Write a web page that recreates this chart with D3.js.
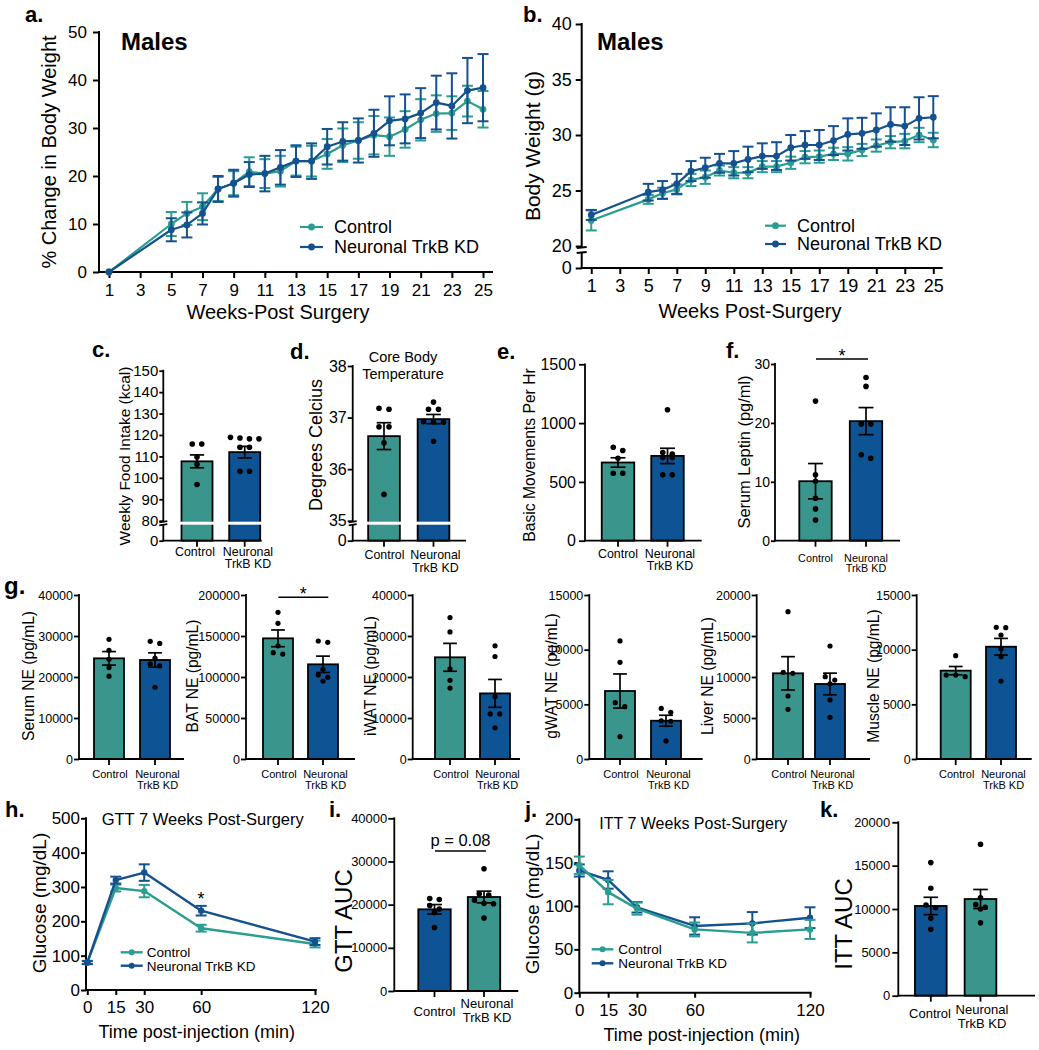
<!DOCTYPE html>
<html>
<head>
<meta charset="utf-8">
<script src="https://cdn.jsdelivr.net/npm/d3@7/dist/d3.min.js"></script>
<style>
html,body{margin:0;padding:0;background:#fff;}
svg{display:block;}
text{font-family:'Liberation Sans',Arial,Helvetica,sans-serif;fill:#000;}
</style>
</head>
<body>
<svg width="1039" height="1050" viewBox="0 0 1039 1050"></svg>
<script>
// ================= DATA =================
const groups = ["Control", "Neuronal TrkB KD"];
const weeks = [1,5,6,7,8,9,10,11,12,13,14,15,16,17,18,19,20,21,22,23,24,25];
const weekTicks = [1,3,5,7,9,11,13,15,17,19,21,23,25];

// a. % change in body weight
const pctControl    = [0,10,12.2,13.6,17.3,18.5,20.9,20.5,21,23.1,23.1,24.6,26.4,27.4,28.5,28.2,29.7,31.7,33,33.1,35.6,33.9];
const pctControlSEM = [0,2.5,2.4,2.8,2.5,2.5,3,3,3.2,3,3.2,3.1,3.5,3.8,4,4,3.8,4.3,3.8,3.5,3.2,3.8];
const pctKD         = [0,8.8,9.8,12.2,17.3,18.5,20.3,20.5,21.8,23.1,23.1,26.1,27.2,27.4,28.9,31.5,31.9,33.1,35.3,34.6,37.8,38.4];
const pctKDSEM      = [0,2.4,2.6,2.3,2.7,2.8,2.6,3.7,3.6,3.3,3.7,3.7,4,4.6,4.9,5.1,5.1,5.2,5.6,6.8,6.8,7];
const pctTicks = [0,10,20,30,40,50];

// b. body weight (g)
const bwControl    = [22.3,24.2,24.75,25.1,25.95,26.2,26.8,26.6,26.6,27.15,27.15,27.5,28,28.05,28.3,28.3,28.65,29.05,29.35,29.45,30,29.55];
const bwControlSEM = [0.9,0.4,0.5,0.45,0.55,0.6,0.45,0.5,0.5,0.5,0.5,0.55,0.55,0.55,0.55,0.6,0.55,0.55,0.55,0.65,0.65,0.65];
const bwKD         = [22.8,24.85,25.05,25.6,26.75,27.05,27.45,27.45,27.8,28.1,28.1,28.85,29.1,29.1,29.5,30.05,30.15,30.45,30.95,30.8,31.5,31.6];
const bwKDSEM      = [0.45,0.75,0.8,0.9,0.9,0.9,0.85,1.1,1.15,1.15,1.25,1.15,1.25,1.35,1.3,1.45,1.4,1.5,1.55,1.7,1.9,1.9];
const bwTicks = [0,20,25,30,35,40];

// c. weekly food intake
const foodMean = [107.7, 112];
const foodSEM  = [3, 2.7];
const foodPtsControl = [115.8,115.8,109.7,106.3,96.9];
const foodPtsKD      = [118.6,118.2,118.2,118.9,114.3,114.3,103.1,103.1];
const foodTicks = [0,80,90,100,110,120,130,140,150];

// d. core body temperature
const tempMean = [36.64, 36.97];
const tempSEM  = [0.26, 0.09];
const tempPtsControl = [37.16,37.18,36.82,36.82,36.51,35.51];
const tempPtsKD      = [37.3,37.16,37.16,36.92,36.91,36.92,36.54];
const tempTicks = [0,35,36,37,38];

// e. basic movements
const moveMean = [665, 721];
const moveSEM  = [40, 65];
const movePtsControl = [767,795,701,574,574];
const movePtsKD      = [1113,736,750,707,707,560,560];
const moveTicks = [0,500,1000,1500];

// f. serum leptin
const leptinMean = [10.1, 20.3];
const leptinSEM  = [3, 2.3];
const leptinPtsControl = [23.7,11.2,10.1,7.2,5.4,3.5];
const leptinPtsKD      = [27.7,26.2,19.8,19.8,14,14.6];
const leptinTicks = [0,10,20,30];

// g. norepinephrine
const serumNEMean = [24550, 24150], serumNESEM = [1650, 1750];
const serumNEPtsControl = [29200,26500,24300,22300,20200];
const serumNEPtsKD = [28200,28700,24600,23200,22700,17500];
const batNEMean = [147150, 115450], batNESEM = [10200, 10000];
const batNEPtsControl = [178900,165400,138000,129700,128000];
const batNEPtsKD = [142300,143900,109300,102500,99600,95100];
const iwatNEMean = [24800, 16000], iwatNESEM = [3400, 3400];
const iwatNEPtsControl = [34500,31000,22000,19200,17300];
const iwatNEPtsKD = [27600,25000,15200,11000,11000,7600];
const gwatNEMean = [6220, 3500], gwatNESEM = [1560, 500];
const gwatNEPtsControl = [10800,8840,5150,4790,2040];
const gwatNEPtsKD = [4630,4270,3500,3450,1650];
const liverNEMean = [10450, 9150], liverNESEM = [2030, 1320];
const liverNEPtsControl = [17970,10450,10570,7680,6060];
const liverNEPtsKD = [13780,10040,9630,9150,7200,5080];
const muscleNEMean = [8080, 10270], muscleNESEM = [380, 760];
const muscleNEPtsControl = [9450,7680,7530,7680];
const muscleNEPtsKD = [12010,12040,11340,10060,9360,7130];
const ticks40k  = [0,10000,20000,30000,40000];
const ticks200k = [0,50000,100000,150000,200000];
const ticks15k  = [0,5000,10000,15000];
const ticks20k  = [0,5000,10000,15000,20000];

// h. GTT
const gttTimes = [0,15,30,60,120];
const gttControl = [80,297,288,180,134], gttControlSEM = [5,10,18,10,10];
const gttKD = [80,320,342,231,141], gttKDSEM = [4,10,24,14,10];
const gttTicks = [0,100,200,300,400,500];
const timeTicks = [0,15,30,60,120];

// i. GTT AUC
const gttAUCMean = [18920, 21770], gttAUCSEM = [1100, 1350];
const gttAUCPtsControl = [21200,21400,19800,19000,18200,14700];
const gttAUCPtsKD = [28300,22500,22200,21000,20300,20200,16900];

// j. ITT
const ittTimes = [0,15,30,60,90,120];
const ittControl = [147,116,97,73,69,73], ittControlSEM = [10,14,7,8,11,11];
const ittKD = [141,130,98.5,77,80,86.5], ittKDSEM = [7,10,6,10,13,12];
const ittTicks = [0,50,100,150,200];

// k. ITT AUC
const ittAUCMean = [10350, 11150], ittAUCSEM = [1000, 1100];
const ittAUCPtsControl = [15350,12400,10460,10150,8920,7650];
const ittAUCPtsKD = [17460,11300,10500,10200,10000,8400];

// ================= DRAWING =================
const FONT = "'Liberation Sans', Arial, Helvetica, sans-serif";
const TEAL_L = "#2a9d91", NAVY_L = "#15508f", TEAL_B = "#3a968d", NAVY_B = "#0e5393";
const svg = d3.select("svg");
svg.append("rect").attr("width",1039).attr("height",1050).attr("fill","#fff");

function ln(x1,y1,x2,y2,sw,color){
  return svg.append("line").attr("x1",x1).attr("y1",y1).attr("x2",x2).attr("y2",y2)
    .attr("stroke",color||"#000").attr("stroke-width",sw);
}
function txt(x,y,s,fs,o={}){
  const t = svg.append("text").attr("font-size",fs).attr("font-family",FONT).attr("fill","#000").text(s);
  if (o.rot) t.attr("transform",`translate(${x},${y}) rotate(-90)`).attr("text-anchor","middle").attr("dy","0.35em");
  else { t.attr("x",x).attr("y",y).attr("text-anchor",o.anchor||"start"); if (o.dy) t.attr("dy",o.dy); }
  if (o.bold) t.attr("font-weight","bold");
  return t;
}
function txt2(x, y1, y2, l1, l2, fs){
  const t = svg.append("text").attr("font-size",fs).attr("font-family",FONT).attr("fill","#000")
    .attr("text-anchor","middle");
  t.append("tspan").attr("x",x).attr("y",y1).text(l1);
  t.append("tspan").attr("x",x).attr("y",y2).text(l2);
  return t;
}
function styleAxis(g, fs, sw){
  g.attr("font-family",null).attr("font-size",null);
  g.select(".domain").remove();
  g.selectAll(".tick line").attr("stroke","#000").attr("stroke-width",sw);
  g.selectAll(".tick text").attr("fill","#000").attr("font-size",fs).attr("font-family",FONT);
}
function yAxisLine(x, yTop, yBot, sw, brk, bw){
  if (!brk){ ln(x, yTop - sw/2, x, yBot + sw/2, sw); return; }
  ln(x, yTop - sw/2, x, brk[0], sw);
  ln(x, brk[1], x, yBot + sw/2, sw);
  ln(x - bw, brk[0] + 0.6, x + bw, brk[0] - 0.6, sw);
  ln(x - bw, brk[1] + 0.6, x + bw, brk[1] - 0.6, sw);
}
function swarm(vals, y, cx, sp, tol){
  const pts = vals.map(v=>({v, py:y(v)})).sort((a,b)=>a.py-b.py);
  const rows = []; let cur = null;
  pts.forEach(p=>{ if(!cur || p.py - cur[0].py > tol){ cur=[p]; rows.push(cur); } else cur.push(p); });
  rows.forEach(r=>r.forEach((p,i)=>{ p.px = cx + (i-(r.length-1)/2)*sp; }));
  return pts;
}

function linePanel(o){
  const x = d3.scaleLinear().domain(o.xDomain).range(o.xRange);
  const y = d3.scaleLinear().domain(o.yDomain).range(o.yRange);
  const yb = o.yRange[0], yt = o.yRange[o.yRange.length-1];
  const gx = svg.append("g").attr("transform",`translate(0,${yb})`)
    .call(d3.axisBottom(x).tickValues(o.xTicks).tickSize(o.tickLen).tickPadding(o.xPad).tickSizeOuter(0));
  styleAxis(gx, o.tickFs, o.sw);
  const gy = svg.append("g").attr("transform",`translate(${o.axisX},0)`)
    .call(d3.axisLeft(y).tickValues(o.yTicks).tickSize(o.tickLen).tickPadding(o.yPad).tickSizeOuter(0));
  styleAxis(gy, o.tickFs, o.sw);
  ln(o.axisX - o.sw/2, yb, o.xEnd, yb, o.sw);
  yAxisLine(o.axisX, yt, yb, o.sw, o.brk, 5);
  o.series.forEach(s=>{
    const pts = o.xVals.map((t,i)=>({t, v:s.values[i], e:s.sem[i]}));
    svg.append("path").datum(pts)
      .attr("d", d3.line().x(d=>x(d.t)).y(d=>y(d.v)))
      .attr("fill","none").attr("stroke",s.color).attr("stroke-width",o.lw).attr("stroke-linejoin","round");
    pts.forEach(d=>{
      if (d.e > 0){
        const cx = x(d.t), y1 = y(d.v + d.e), y2 = y(d.v - d.e);
        ln(cx, y1, cx, y2, o.ew, s.color);
        ln(cx - o.capW/2, y1, cx + o.capW/2, y1, o.ew, s.color);
        ln(cx - o.capW/2, y2, cx + o.capW/2, y2, o.ew, s.color);
      }
    });
    pts.forEach(d=>{
      svg.append("circle").attr("cx",x(d.t)).attr("cy",y(d.v)).attr("r",o.r).attr("fill",s.color);
    });
  });
  return {x,y};
}

function legend(x1, x2, yy, color, label, fs, tx, r, lw){
  ln(x1, yy, x2, yy, lw, color);
  svg.append("circle").attr("cx",(x1+x2)/2).attr("cy",yy).attr("r",r).attr("fill",color);
  txt(tx, yy, label, fs, {dy:"0.36em"});
}

function barPanel(o){
  const y = d3.scaleLinear().domain(o.domain).range(o.range);
  const x = d3.scalePoint().domain(groups).range(o.centers);
  const yb = o.range[0], yt = o.range[o.range.length-1];
  const sw = 1.8;
  o.data.forEach((s,i)=>{
    const cx = x(groups[i]);
    svg.append("rect").attr("x",cx-o.bw/2).attr("y",y(s.mean)).attr("width",o.bw)
      .attr("height",yb - y(s.mean)).attr("fill",s.color).attr("stroke","#000").attr("stroke-width",sw);
  });
  if (o.brk) svg.append("rect").attr("x",o.L+1.5).attr("y",o.brk[0]).attr("width",o.R-o.L)
      .attr("height",o.brk[1]-o.brk[0]).attr("fill","#fff");
  o.data.forEach((s,i)=>{
    const cx = x(groups[i]);
    const cw = o.bw*0.46;
    const y1 = y(s.mean + s.sem), y2 = y(s.mean - s.sem);
    ln(cx, y1, cx, y2, 1.7);
    ln(cx-cw/2, y1, cx+cw/2, y1, 1.7);
    ln(cx-cw/2, y2, cx+cw/2, y2, 1.7);
    swarm(s.pts, y, cx, o.sp||9.5, 4).forEach(p=>{
      svg.append("circle").attr("cx",p.px).attr("cy",p.py).attr("r",o.r||2.8).attr("fill","#000");
    });
  });
  const gy = svg.append("g").attr("transform",`translate(${o.L},0)`)
    .call(d3.axisLeft(y).tickValues(o.ticks).tickSize(o.tl||5).tickPadding(o.pad==null?1:o.pad).tickFormat(d3.format("d")));
  styleAxis(gy, o.fs, sw);
  yAxisLine(o.L, yt, yb, sw, o.brk, 4);
  ln(o.L - sw/2, yb, o.R, yb, sw);
  groups.forEach(g=> ln(x(g), yb, x(g), yb + 6, sw));
  const lb = o.lab;
  txt(x(groups[0]) + (lb.dc||0), lb.yc, "Control", lb.fs, {anchor:"middle"});
  txt2(x(groups[1]) + (lb.dn||0), lb.y1, lb.y2, "Neuronal", "TrkB KD", lb.fs);
  txt(o.tx, o.ty, o.title, o.tfs, {rot:true});
  return {x,y};
}

function sigBar(x1, x2, yy, label, fs, ly){
  ln(x1, yy, x2, yy, 1.6);
  txt((x1+x2)/2, ly, label, fs, {anchor:"middle"});
}

// ---------- a ----------
linePanel({
  xDomain:[0.36,25.64], xRange:[99,493], axisX:99, xEnd:493,
  yDomain:[0,50], yRange:[272,32], xTicks:weekTicks, yTicks:pctTicks, xVals:weeks,
  tickFs:17, tickLen:6, xPad:5.5, yPad:6, sw:2, lw:2.2, ew:2, r:3.4, capW:11,
  series:[{values:pctControl, sem:pctControlSEM, color:TEAL_L},{values:pctKD, sem:pctKDSEM, color:NAVY_L}]
});
txt(278, 318.5, "Weeks-Post Surgery", 20, {anchor:"middle"});
txt(49, 152, "% Change in Body Weight", 20, {rot:true});
txt(121, 50, "Males", 24, {bold:true});
txt(25, 22, "a.", 22, {bold:true});
legend(300, 323, 227, TEAL_L, "Control", 18, 334, 3.4, 2.2);
legend(300, 323, 247, NAVY_L, "Neuronal TrkB KD", 18, 334, 3.4, 2.2);

// ---------- b ----------
linePanel({
  xDomain:[0.33,25.66], xRange:[581.7,942.7], axisX:581.7, xEnd:942.7,
  yDomain:[0,20,40], yRange:[268,246,24], xTicks:weekTicks, yTicks:bwTicks, xVals:weeks,
  tickFs:18, tickLen:6, xPad:5, yPad:4, sw:2, lw:2.2, ew:2, r:3.4, capW:11, brk:[247.5,252.5],
  series:[{values:bwControl, sem:bwControlSEM, color:TEAL_L},{values:bwKD, sem:bwKDSEM, color:NAVY_L}]
});
txt(750, 317.5, "Weeks Post-Surgery", 20, {anchor:"middle"});
txt(533, 146, "Body Weight (g)", 21, {rot:true});
txt(597, 50, "Males", 24, {bold:true});
txt(523, 22, "b.", 22, {bold:true});
legend(765, 786, 225.7, TEAL_L, "Control", 18, 797, 3.4, 2.2);
legend(765, 786, 244, NAVY_L, "Neuronal TrkB KD", 18, 797, 3.4, 2.2);

// ---------- c ----------
barPanel({
  L:163.3, R:261.7, domain:[0,80,150], range:[540.7,520.7,370.7], centers:[197,244.7], bw:31,
  ticks:foodTicks, fs:15, tl:4, pad:1, brk:[521.7,524.7],
  data:[{mean:foodMean[0], sem:foodSEM[0], pts:foodPtsControl, color:TEAL_B},
        {mean:foodMean[1], sem:foodSEM[1], pts:foodPtsKD, color:NAVY_B}],
  lab:{fs:12.4, yc:555.5, y1:555.5, y2:567.7, dc:-2, dn:3.3}, tx:125, ty:456, title:"Weekly Food Intake (kcal)", tfs:15.5
});
txt(92, 357, "c.", 22, {bold:true});

// ---------- d ----------
barPanel({
  L:352.7, R:466, domain:[0,35,38], range:[540.7,520.7,366], centers:[384,433.5], bw:31.7,
  ticks:tempTicks, fs:16, tl:5, pad:1, brk:[521.7,524.7], sp:10,
  data:[{mean:tempMean[0], sem:tempSEM[0], pts:tempPtsControl, color:TEAL_B},
        {mean:tempMean[1], sem:tempSEM[1], pts:tempPtsKD, color:NAVY_B}],
  lab:{fs:12.4, yc:559.3, y1:559.3, y2:571.5, dc:0.5, dn:2}, tx:315.5, ty:445, title:"Degrees Celcius", tfs:18
});
txt(403, 362, "Core Body", 14.5, {anchor:"middle"});
txt(403, 378.5, "Temperature", 14.5, {anchor:"middle"});
txt(290, 359, "d.", 22, {bold:true});

// ---------- e ----------
barPanel({
  L:585, R:701.7, domain:[0,1500], range:[540.7,364.3], centers:[618,667.5], bw:32.5,
  ticks:moveTicks, fs:16, tl:6, pad:3,
  data:[{mean:moveMean[0], sem:moveSEM[0], pts:movePtsControl, color:TEAL_B},
        {mean:moveMean[1], sem:moveSEM[1], pts:movePtsKD, color:NAVY_B}],
  lab:{fs:12.4, yc:557.5, y1:557.5, y2:569.7, dc:0, dn:2.5}, tx:529, ty:455, title:"Basic Movements Per Hr", tfs:15.7
});
txt(497, 359, "e.", 22, {bold:true});

// ---------- f ----------
barPanel({
  L:775, R:900, domain:[0,30], range:[540.7,364], centers:[815.5,866], bw:32.4,
  ticks:leptinTicks, fs:14, tl:4, pad:1,
  data:[{mean:leptinMean[0], sem:leptinSEM[0], pts:leptinPtsControl, color:TEAL_B},
        {mean:leptinMean[1], sem:leptinSEM[1], pts:leptinPtsKD, color:NAVY_B}],
  lab:{fs:10.8, yc:561.7, y1:561.7, y2:572.2}, tx:744, ty:452, title:"Serum Leptin (pg/ml)", tfs:16.4
});
sigBar(816, 868, 359, "*", 18, 362);
txt(726, 358, "f.", 22, {bold:true});

// ---------- g ----------
const gPanels = [
  {L:79,    R:184,    centers:[109,155],     domain:[0,40000],  ticks:ticks40k,  mean:serumNEMean,  sem:serumNESEM,  pc:serumNEPtsControl,  pk:serumNEPtsKD,  tx:29,    title:"Serum NE (pg/mL)"},
  {L:246,   R:355,    centers:[278,323],     domain:[0,200000], ticks:ticks200k, mean:batNEMean,    sem:batNESEM,    pc:batNEPtsControl,    pk:batNEPtsKD,    tx:192.5, title:"BAT NE (pg/mL)"},
  {L:412.7, R:520,    centers:[450,495],     domain:[0,40000],  ticks:ticks40k,  mean:iwatNEMean,   sem:iwatNESEM,   pc:iwatNEPtsControl,   pk:iwatNEPtsKD,   tx:370.3, title:"iWAT NE (pg/mL)"},
  {L:589.3, R:702.7,  centers:[620,666],     domain:[0,15000],  ticks:ticks15k,  mean:gwatNEMean,   sem:gwatNESEM,   pc:gwatNEPtsControl,   pk:gwatNEPtsKD,   tx:552,   title:"gWAT NE (pg/mL)"},
  {L:756.7, R:870,    centers:[788,830],     domain:[0,20000],  ticks:ticks20k,  mean:liverNEMean,  sem:liverNESEM,  pc:liverNEPtsControl,  pk:liverNEPtsKD,  tx:707.5, title:"Liver NE (pg/mL)"},
  {L:916.7, R:1031.7, centers:[955.7,1001],  domain:[0,15000],  ticks:ticks15k,  mean:muscleNEMean, sem:muscleNESEM, pc:muscleNEPtsControl, pk:muscleNEPtsKD, tx:873.3, title:"Muscle NE (pg/mL)"}
];
gPanels.forEach(p=>{
  barPanel({
    L:p.L, R:p.R, domain:p.domain, range:[759,595], centers:p.centers, bw:30,
    ticks:p.ticks, fs:12.5, tl:5, pad:1, r:2.6, sp:9.5,
    data:[{mean:p.mean[0], sem:p.sem[0], pts:p.pc, color:TEAL_B},
          {mean:p.mean[1], sem:p.sem[1], pts:p.pk, color:NAVY_B}],
    lab:{fs:11, yc:777.8, y1:777.8, y2:788.5, dc:1, dn:2.5}, tx:p.tx, ty:676, title:p.title, tfs:15.6
  });
});
sigBar(278.3, 328.3, 597.3, "*", 18, 600);
txt(4, 594, "g.", 24, {bold:true});

// ---------- h ----------
linePanel({
  xDomain:[0,120], xRange:[87.3,315], axisX:86, xEnd:316.7,
  yDomain:[0,500], yRange:[990,818.3], xTicks:timeTicks, yTicks:gttTicks, xVals:gttTimes,
  tickFs:17, tickLen:5, xPad:6, yPad:1, sw:2, lw:2.4, ew:2, r:3.2, capW:11,
  series:[{values:gttControl, sem:gttControlSEM, color:TEAL_L},{values:gttKD, sem:gttKDSEM, color:NAVY_L}]
});
txt(201, 905, "*", 18, {anchor:"middle"});
txt(196.7, 1038, "Time post-injection (min)", 18, {anchor:"middle"});
txt(39, 903, "Glucose (mg/dL)", 19, {rot:true});
txt(101.7, 825, "GTT 7 Weeks Post-Surgery", 16.5);
txt(5, 817, "h.", 22, {bold:true});
legend(120.7, 142.7, 952.3, TEAL_L, "Control", 13.5, 146.7, 3, 2.4);
legend(120.7, 142.7, 965.7, NAVY_L, "Neuronal TrkB KD", 13.5, 146.7, 3, 2.4);

// ---------- i ----------
barPanel({
  L:394.3, R:518.3, domain:[0,40000], range:[991,818.3], centers:[434.5,484], bw:32.4,
  ticks:ticks40k, fs:13, tl:6, pad:1,
  data:[{mean:gttAUCMean[0], sem:gttAUCSEM[0], pts:gttAUCPtsControl, color:NAVY_B},
        {mean:gttAUCMean[1], sem:gttAUCSEM[1], pts:gttAUCPtsKD, color:TEAL_B}],
  lab:{fs:13, yc:1016, y1:1008, y2:1022, dc:0, dn:3}, tx:344, ty:921, title:"GTT AUC", tfs:24
});
sigBar(435, 486, 851, "p = 0.08", 16.5, 846);
txt(329, 817, "i.", 22, {bold:true});

// ---------- j ----------
linePanel({
  xDomain:[0,120], xRange:[579.3,810], axisX:579.3, xEnd:811.7,
  yDomain:[0,200], yRange:[992.7,819.3], xTicks:timeTicks, yTicks:ittTicks, xVals:ittTimes,
  tickFs:17, tickLen:5, xPad:6, yPad:1, sw:2, lw:2.4, ew:2, r:3.2, capW:11,
  series:[{values:ittKD, sem:ittKDSEM, color:NAVY_L},{values:ittControl, sem:ittControlSEM, color:TEAL_L}]
});
txt(701.7, 1041, "Time post-injection (min)", 18, {anchor:"middle"});
txt(532.5, 904, "Glucose (mg/dL)", 19, {rot:true});
txt(599.3, 829, "ITT 7 Weeks Post-Surgery", 16);
txt(525, 817, "j.", 22, {bold:true});
legend(591.7, 613.3, 949.3, TEAL_L, "Control", 13.5, 618.3, 3, 2.4);
legend(591.7, 613.3, 963.3, NAVY_L, "Neuronal TrkB KD", 13.5, 618.3, 3, 2.4);

// ---------- k ----------
barPanel({
  L:898.3, R:1035, domain:[0,20000], range:[995.7,822.3], centers:[930.8,980.5], bw:31.7,
  ticks:ticks20k, fs:13, tl:6, pad:2,
  data:[{mean:ittAUCMean[0], sem:ittAUCSEM[0], pts:ittAUCPtsControl, color:NAVY_B},
        {mean:ittAUCMean[1], sem:ittAUCSEM[1], pts:ittAUCPtsKD, color:TEAL_B}],
  lab:{fs:13, yc:1018, y1:1014.3, y2:1027.8, dc:-0.8, dn:1.5}, tx:843.3, ty:924, title:"ITT AUC", tfs:24
});
txt(820, 817, "k.", 22, {bold:true});
</script>
</body>
</html>
